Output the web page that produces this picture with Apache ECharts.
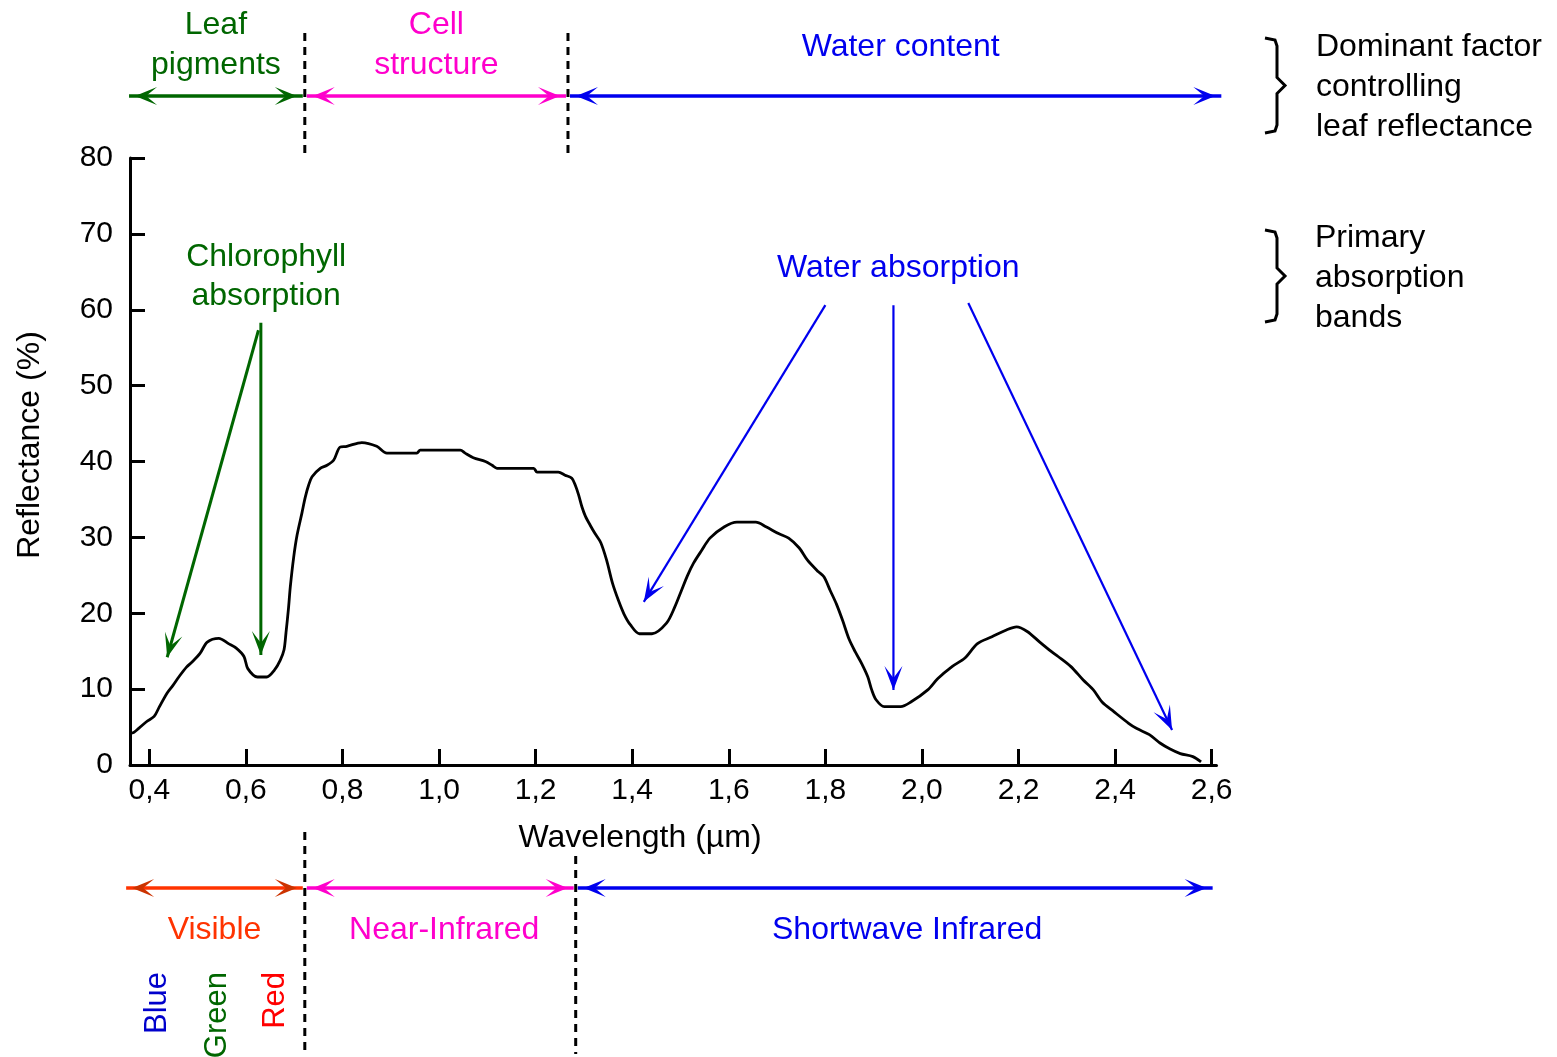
<!DOCTYPE html>
<html>
<head>
<meta charset="utf-8">
<script src="https://cdn.jsdelivr.net/npm/echarts@6/dist/echarts.min.js"></script>
<style>
html,body{margin:0;padding:0;background:#fff;}
#c{width:1557px;height:1057px;}
</style>
</head>
<body>
<div id="c"></div>
<script>
// ---------- data ----------
const wavelength = [0.363,0.368,0.394,0.410,0.421,0.437,0.449,0.461,0.477,0.489,0.505,0.520,0.544,0.564,0.580,0.596,0.604,0.624,0.643,0.659,0.671,0.679,0.683,0.688,0.692,0.699,0.706,0.716,0.723,0.730,0.737,0.754,0.768,0.782,0.795,0.809,0.840,0.871,0.892,0.954,0.961,1.044,1.054,1.071,1.096,1.110,1.120,1.196,1.203,1.247,1.261,1.275,1.282,1.289,1.296,1.303,1.313,1.323,1.335,1.347,1.359,1.372,1.383,1.396,1.415,1.441,1.471,1.488,1.502,1.514,1.527,1.544,1.561,1.591,1.617,1.656,1.677,1.703,1.724,1.746,1.763,1.785,1.797,1.810,1.823,1.836,1.849,1.862,1.875,1.888,1.896,1.905,1.922,1.956,1.977,2.012,2.033,2.063,2.089,2.115,2.145,2.175,2.196,2.218,2.244,2.269,2.282,2.308,2.334,2.355,2.373,2.398,2.428,2.445,2.471,2.493,2.514,2.535,2.561,2.578];
const reflectance = [4.2,4.3,5.7,6.4,7.7,9.5,10.5,11.6,12.9,13.6,14.7,16.2,16.7,16.0,15.4,14.3,12.7,11.6,11.6,12.5,13.8,15.2,17.4,20.5,23.5,27.4,30.3,33.2,35.3,36.9,38.0,39.1,39.5,40.2,41.9,42.0,42.5,42.0,41.1,41.1,41.5,41.5,41.1,40.5,40.0,39.5,39.1,39.1,38.6,38.6,38.2,37.8,36.9,35.6,34.0,32.8,31.6,30.5,29.3,27.0,24.0,21.6,19.9,18.5,17.3,17.3,18.7,20.8,23.0,24.9,26.6,28.3,29.9,31.4,32.0,32.0,31.4,30.5,29.9,28.6,27.0,25.5,24.8,23.0,21.2,19.0,16.6,14.9,13.4,11.6,9.9,8.6,7.7,7.7,8.3,9.9,11.4,13.0,14.1,16.0,16.9,17.8,18.2,17.6,16.2,14.9,14.3,13.0,11.2,9.9,8.3,7.0,5.5,4.8,4.0,2.9,2.1,1.5,1.1,0.4];
const xTickValues = [0.4,0.6,0.8,1.0,1.2,1.4,1.6,1.8,2.0,2.2,2.4,2.6];
const yTickStep = 10;

const topBandLabels = [['Leaf','pigments'],['Cell','structure'],['Water content']];
const topBandBounds = [0.358,0.722,1.267,2.62];
const bottomBandLabels = ['Visible','Near-Infrared','Shortwave Infrared'];
const bottomBandBounds = [0.352,0.722,1.283,2.602];
const colourNames = ['Blue','Green','Red'];
const colourNameWavelengths = [0.417,0.542,0.662];

const chlorophyllLabel = ['Chlorophyll','absorption'];
const chlorophyllArrowFrom = [[0.626,57.3],[0.631,58.3]];
const chlorophyllArrowTo = [[0.437,14.2],[0.631,14.5]];
const waterLabel = 'Water absorption';
const waterArrowFrom = [[1.800,60.6],[1.941,60.6],[2.096,60.9]];
const waterArrowTo = [[1.424,21.5],[1.941,9.9],[2.518,4.6]];

const legendTop = ['Dominant factor','controlling','leaf reflectance'];
const legendBottom = ['Primary','absorption','bands'];

// ---------- styles ----------
const FONT = '"Liberation Sans", Arial, sans-serif';
const TEXT_SIZE = 32;
const GREEN = '#006600', MAGENTA = '#ff00cc', BLUE = '#0000ee', ORANGE = '#ff3300', ORANGE_DARK = '#cc3300', RED = '#ff0000';
const topColours = [GREEN, MAGENTA, BLUE];
const bottomColours = [ORANGE, MAGENTA, BLUE];
const bottomHeadColours = [ORANGE_DARK, MAGENTA, BLUE];
const colourNameColours = ['#0000cc', GREEN, RED];

const chart = echarts.init(document.getElementById('c'), null, {renderer: 'canvas'});

const option = {
  backgroundColor: '#fff',
  animation: false,
  grid: {left: 130, right: 340.5, top: 158, bottom: 292, containLabel: false},
  xAxis: {
    type: 'value', min: 0.36, max: 2.61,
    axisLine: {show: true, lineStyle: {color: '#000', width: 3}},
    axisTick: {show: true, inside: true, length: 16, lineStyle: {color: '#000', width: 3}, customValues: xTickValues},
    axisLabel: {customValues: xTickValues, color: '#000', fontSize: 30, fontFamily: FONT, margin: 11,
      formatter: v => v.toFixed(1).replace('.', ',')},
    splitLine: {show: false}
  },
  yAxis: {
    type: 'value', min: 0, max: 80, interval: yTickStep,
    axisLine: {show: true, lineStyle: {color: '#000', width: 3}},
    axisTick: {show: true, inside: true, length: 15, lineStyle: {color: '#000', width: 3}},
    axisLabel: {color: '#000', fontSize: 30, fontFamily: FONT, margin: 17},
    splitLine: {show: false}
  },
  series: [{
    type: 'line',
    data: wavelength.map((w, i) => [w, reflectance[i]]),
    showSymbol: false,
    smooth: 0.3,
    lineStyle: {color: '#000', width: 2.8},
    silent: true
  }]
};
chart.setOption(option);

// ---------- annotations ----------
const toPx = p => chart.convertToPixel({gridIndex: 0}, p);
const xPx = w => chart.convertToPixel({xAxisIndex: 0}, w);
const g = [];

function text(str, x, y, fill, opts) {
  opts = opts || {};
  g.push({type: 'text', x: x, y: y, rotation: opts.rotation || 0, z: 10,
    style: {text: str, fill: fill, font: (opts.size || TEXT_SIZE) + 'px ' + FONT,
      align: opts.align || 'center', verticalAlign: opts.valign || 'middle'}});
}
function line(x1, y1, x2, y2, stroke, w, dash) {
  g.push({type: 'line', z: 5, shape: {x1: x1, y1: y1, x2: x2, y2: y2},
    style: {stroke: stroke, lineWidth: w, lineDash: dash || null}});
}
function head(tip, from, fill, len, half) {
  len = len || 24; half = half || 9;
  const dx = tip[0] - from[0], dy = tip[1] - from[1];
  const L = Math.hypot(dx, dy), ux = dx / L, uy = dy / L, nx = -uy, ny = ux;
  const b = [tip[0] - ux * len, tip[1] - uy * len];
  const m = [tip[0] - ux * len * 0.5, tip[1] - uy * len * 0.5];
  g.push({type: 'polygon', z: 6, shape: {points: [tip, [b[0] + nx * half, b[1] + ny * half], m, [b[0] - nx * half, b[1] - ny * half]]},
    style: {fill: fill}});
}
function arrow(a, b, color, w, headColor) {
  line(a[0], a[1], b[0], b[1], color, w);
  head(b, a, headColor || color);
}
function doubleArrow(x1, x2, y, color, headColor) {
  line(x1, y, x2, y, color, 3.5);
  head([x1 + 6, y], [x2, y], headColor, 22, 9);
  head([x2 - 6, y], [x1, y], headColor, 22, 9);
}

// top band
const TOP_Y = 96;
for (let i = 0; i < topBandLabels.length; i++) {
  const xa = xPx(topBandBounds[i]) + (i ? 2 : 0), xb = xPx(topBandBounds[i + 1]) - (i < 2 ? 2 : 0);
  doubleArrow(xa, xb, TOP_Y, topColours[i], topColours[i]);
  const lines = topBandLabels[i];
  const cx = (xa + xb) / 2;
  if (lines.length === 2) { text(lines[0], cx, 25, topColours[i]); text(lines[1], cx, 65, topColours[i]); }
  else text(lines[0], cx + 5, 47, topColours[i]);
}
for (let i = 1; i < topBandBounds.length - 1; i++) {
  const x = xPx(topBandBounds[i]);
  line(x, 33, x, 155, '#000', 3, [8, 6]);
}
// bottom band
const BOT_Y = 888;
for (let i = 0; i < bottomBandLabels.length; i++) {
  const xa = xPx(bottomBandBounds[i]) + (i ? 2 : 0), xb = xPx(bottomBandBounds[i + 1]) - (i < 2 ? 2 : 0);
  doubleArrow(xa, xb, BOT_Y, bottomColours[i], bottomHeadColours[i]);
  text(bottomBandLabels[i], (xa + xb) / 2 + (i === 2 ? 12 : (i === 1 ? 4 : 0)), 930, bottomColours[i]);
}
line(xPx(bottomBandBounds[1]), 832, xPx(bottomBandBounds[1]), 1054, '#000', 3, [8, 6]);
line(xPx(bottomBandBounds[2]), 856, xPx(bottomBandBounds[2]), 1054, '#000', 3, [8, 6]);
for (let i = 0; i < colourNames.length; i++) {
  text(colourNames[i], xPx(colourNameWavelengths[i]), 972, colourNameColours[i], {rotation: Math.PI / 2, align: 'right', size: 31});
}

// axis names
text('Wavelength (\u00b5m)', 640, 838, '#000');
text('Reflectance (%)', 30, 445, '#000', {rotation: Math.PI / 2});

// chlorophyll absorption
for (let i = 0; i < chlorophyllArrowFrom.length; i++) {
  arrow(toPx(chlorophyllArrowFrom[i]), toPx(chlorophyllArrowTo[i]), GREEN, 3);
}
{
  const c = toPx([0.642, 64.4]);
  text(chlorophyllLabel[0], c[0], c[1] - 19.5, GREEN);
  text(chlorophyllLabel[1], c[0], c[1] + 19.5, GREEN);
}
// water absorption
for (let i = 0; i < waterArrowFrom.length; i++) {
  arrow(toPx(waterArrowFrom[i]), toPx(waterArrowTo[i]), BLUE, 2.2);
}
{
  const c = toPx([1.951, 65.5]);
  text(waterLabel, c[0], c[1], BLUE);
}

// right side legend with braces
function brace(x, yTop, yBot) {
  const ym = (yTop + yBot) / 2;
  g.push({type: 'polyline', z: 5, shape: {points: [
    [x - 10, yTop], [x, yTop + 2], [x + 2, yTop + 8], [x + 2, ym - 8], [x + 10, ym], [x + 2, ym + 8], [x + 2, yBot - 8], [x, yBot - 2], [x - 10, yBot]
  ]}, style: {stroke: '#000', lineWidth: 3, fill: null}});
}
brace(1275, 38, 133);
legendTop.forEach((s, i) => text(s, 1316, 47 + i * 40, '#000', {align: 'left'}));
brace(1275, 230, 322);
legendBottom.forEach((s, i) => text(s, 1315, 238 + i * 40, '#000', {align: 'left'}));

chart.setOption({graphic: {elements: g}});
</script>
</body>
</html>
